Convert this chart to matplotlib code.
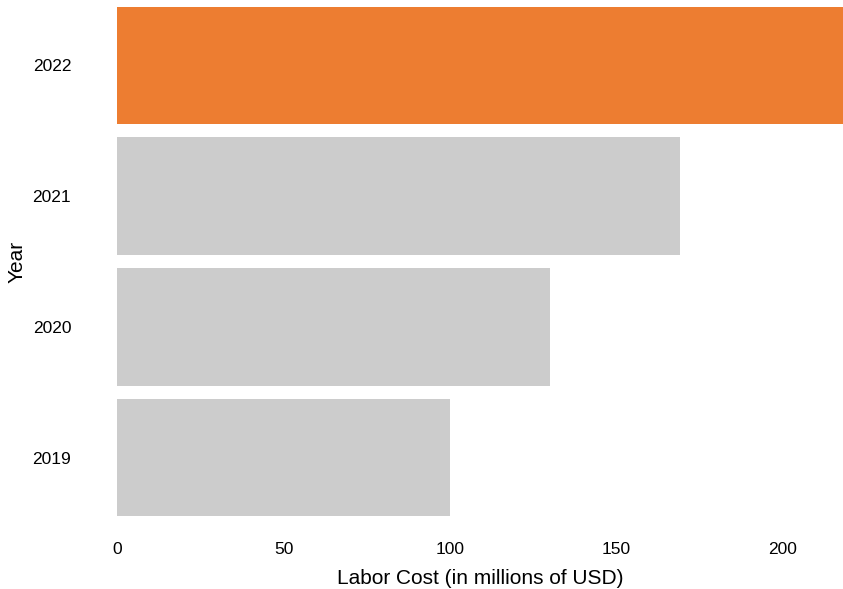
import matplotlib
matplotlib.use("Agg")
import matplotlib.pyplot as plt

plt.rcParams["font.family"] = ["Liberation Sans", "DejaVu Sans"]

# Data
years = ["2019", "2020", "2021", "2022"]
labor_cost = [100, 130, 169, 218]
highlight = "2022"

ORANGE = "#ED7D31"
GREY = "#CCCCCC"


def main() -> None:
    """Plots labor cost per year as horizontal bars."""

    fig = plt.figure(figsize=(8.43, 5.89), dpi=100)
    ax = fig.add_axes([117 / 843, 66 / 589, 726 / 843, 523 / 589])

    colors = [ORANGE if y == highlight else GREY for y in years]
    ax.barh(years, labor_cost, height=0.9, color=colors)

    ax.set_xlim(0, max(labor_cost))
    ax.set_ylim(-0.5, len(years) - 0.5)
    ax.set_xticks([0, 50, 100, 150, 200])

    for spine in ax.spines.values():
        spine.set_visible(False)
    ax.tick_params(axis="x", length=0, pad=14, labelsize=12.5)
    ax.tick_params(axis="y", length=0, pad=33, labelsize=12.5)

    ax.set_xlabel("Labor Cost (in millions of USD)", fontsize=15, labelpad=8)
    ax.set_ylabel("Year", fontsize=15, labelpad=4)

    fig.savefig("out.png", dpi=100)


if __name__ == "__main__":
    main()
